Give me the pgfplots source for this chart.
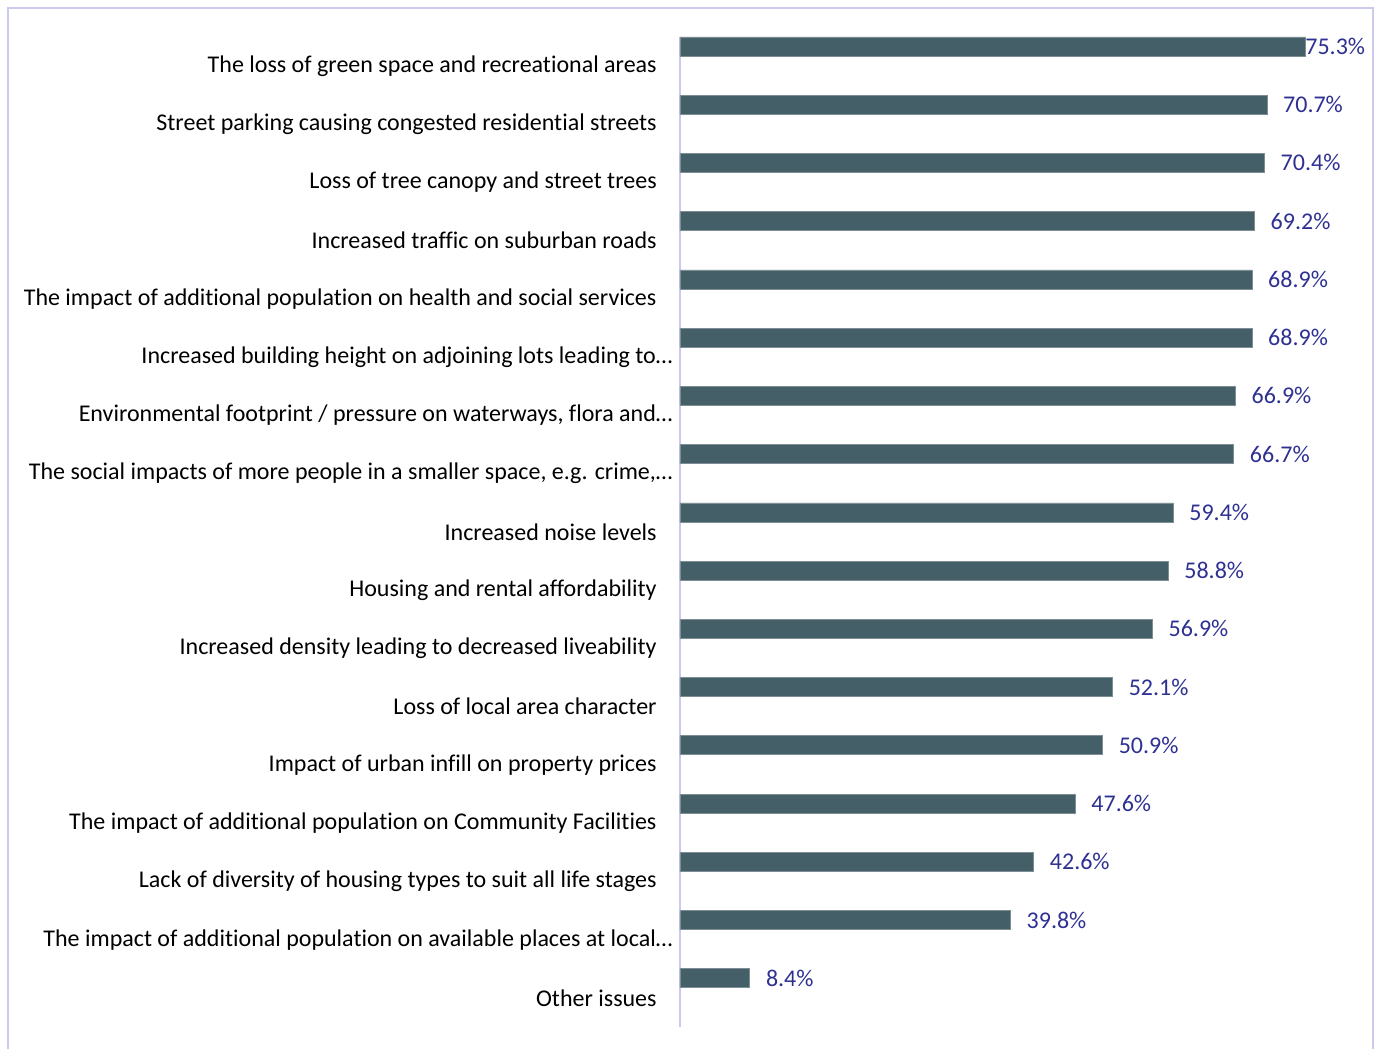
\documentclass[border=0pt]{standalone}
\usepackage{fontspec}
\setmainfont{Carlito}[Ligatures=NoCommon]
\usepackage{pgfplots}
\usepackage{pgfplotstable}
\pgfplotsset{compat=1.18}
\definecolor{barc}{HTML}{455F68}
\definecolor{valc}{HTML}{2E3192}
\definecolor{linec}{HTML}{CACAEE}

% y = category index from the bottom, v = percent, s = label gap (pt)
\pgfplotstableread{
y v s
0 8.4 8
1 39.8 8
2 42.6 8
3 47.6 8
4 50.9 8
5 52.1 8
6 56.9 8
7 58.8 8
8 59.4 8
9 66.7 8
10 66.9 8
11 68.9 8
12 68.9 8
13 69.2 8
14 70.4 8
15 70.7 8
16 75.3 0
}\datatable

\begin{document}
\begin{tikzpicture}
\path[use as bounding box] (0,0) rectangle (691pt,-524.5pt);
\draw[linec, line width=1pt] (4pt,-4pt) rectangle (686.5pt,-535pt);
\begin{axis}[
    at={(340pt,-513.5pt)}, anchor=south west,
    scale only axis,
    width=344.5pt, height=495.1pt,
    xbar,
    xmin=0, xmax=83,
    ymin=-0.5, ymax=16.5,
    axis x line=none,
    axis y line*=left,
    y axis line style={-, draw=linec, line width=1pt},
    ytick={0,...,16},
    yticklabels={
        {Other issues},
        {The impact of additional population on available places at local…\kern-8pt},
        {Lack of diversity of housing types to suit all life stages},
        {The impact of additional population on Community Facilities},
        {Impact of urban infill on property prices},
        {Loss of local area character},
        {Increased density leading to decreased liveability},
        {Housing and rental affordability},
        {Increased noise levels},
        {The social impacts of more people in a smaller space, e.g. crime,…\kern-8pt},
        {Environmental footprint / pressure on waterways, flora and…\kern-8pt},
        {Increased building height on adjoining lots leading to…\kern-8pt},
        {The impact of additional population on health and social services},
        {Increased traffic on suburban roads},
        {Loss of tree canopy and street trees},
        {Street parking causing congested residential streets},
        {The loss of green space and recreational areas}},
    major tick length=0pt,
    ytick style={draw=none},
    yticklabel style={font=\fontsize{12}{14}\selectfont, anchor=east, inner sep=0pt, xshift=-11.5pt},
    bar width=9.5pt,
    bar shift=9.8pt,
    point meta=explicit,
    visualization depends on={\thisrow{s} \as \gap},
    nodes near coords={\pgfmathprintnumber[fixed,fixed zerofill,precision=1,assume math mode=true]{\pgfplotspointmeta}\%},
    every node near coord/.append style={font=\fontsize{12}{14}\selectfont, text=valc, anchor=west, inner sep=0pt, xshift=\gap pt},
    clip=false,
]
\addplot[fill=barc, draw=barc!70!white, line width=0.3pt] table[x=v, y=y, meta=v] {\datatable};
\end{axis}
\end{tikzpicture}
\end{document}
